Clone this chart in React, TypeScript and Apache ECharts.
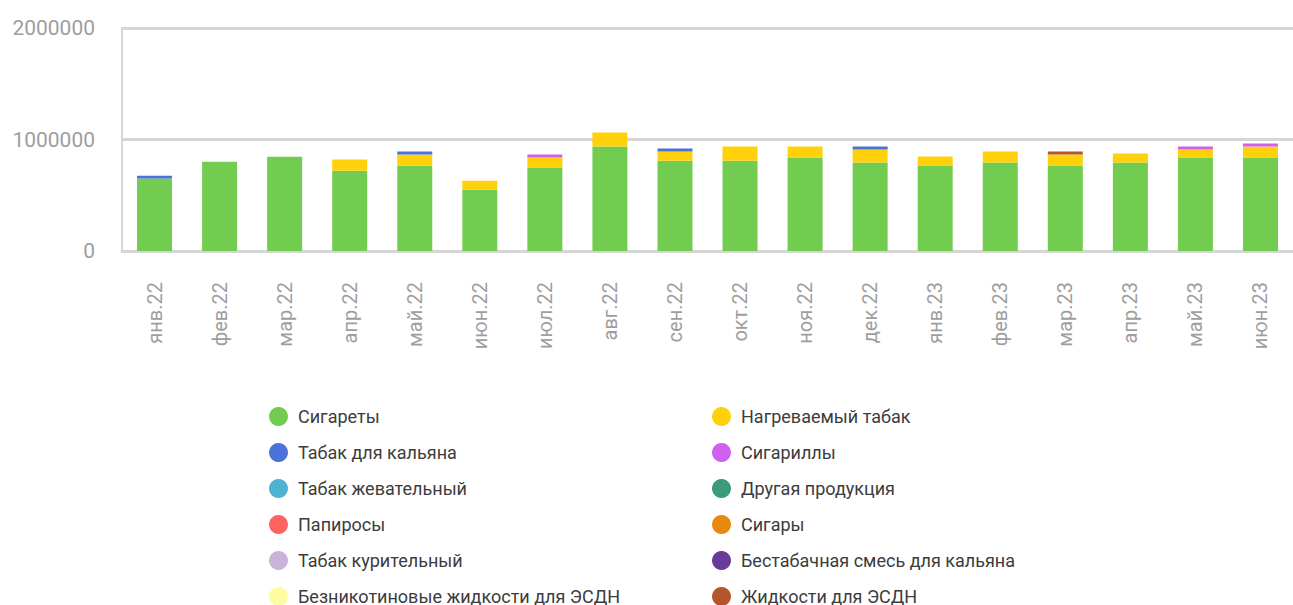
import React, { useEffect, useRef } from "react";
import * as echarts from "echarts";

const categories = [
  "янв.22", "фев.22", "мар.22", "апр.22", "май.22", "июн.22", "июл.22", "авг.22", "сен.22",
  "окт.22", "ноя.22", "дек.22", "янв.23", "фев.23", "мар.23", "апр.23", "май.23", "июн.23",
];

const seriesNames = [
  "Сигареты",
  "Нагреваемый табак",
  "Табак для кальяна",
  "Сигариллы",
  "Табак жевательный",
  "Другая продукция",
  "Папиросы",
  "Сигары",
  "Табак курительный",
  "Бестабачная смесь для кальяна",
  "Безникотиновые жидкости для ЭСДН",
  "Жидкости для ЭСДН",
];

const seriesColors = [
  "#72cc50", "#ffd10a", "#4a72d8", "#d061f0", "#4eb3d3", "#3b9a7a",
  "#ff6361", "#e8890f", "#c9b3d9", "#6a3a9a", "#fdfda0", "#b5562a",
];

const cigarettes = [650000, 800000, 845000, 720000, 765000, 550000, 748000, 937000, 810000, 810000, 838000, 793000, 766000, 793000, 766000, 793000, 838000, 838000];
const heatedTobacco = [0, 0, 0, 100000, 100000, 80000, 90000, 126000, 82000, 127000, 99000, 117000, 81000, 99000, 99000, 81000, 72000, 99000];
const hookahTobacco = [25000, 0, 0, 0, 27000, 0, 0, 0, 27000, 0, 0, 27000, 0, 0, 0, 0, 0, 0];
const cigarillos = [0, 0, 0, 0, 0, 0, 27000, 0, 0, 0, 0, 0, 0, 0, 0, 0, 27000, 27000];
const chewingTobacco = categories.map(() => 0);
const otherProducts = categories.map(() => 0);
const papirosy = categories.map(() => 0);
const cigars = categories.map(() => 0);
const smokingTobacco = categories.map(() => 0);
const tobaccoFreeMix = categories.map(() => 0);
const nicotineFreeLiquids = categories.map(() => 0);
const esdnLiquids = [0, 0, 0, 0, 0, 0, 0, 0, 0, 0, 0, 0, 0, 0, 27000, 0, 0, 0];

const seriesData = [
  cigarettes, heatedTobacco, hookahTobacco, cigarillos, chewingTobacco, otherProducts,
  papirosy, cigars, smokingTobacco, tobaccoFreeMix, nicotineFreeLiquids, esdnLiquids,
];

const yTicks = { min: 0, max: 2000000, interval: 1000000 };

export default function App() {
  const ref = useRef<HTMLDivElement>(null);
  useEffect(() => {
    if (!ref.current) return;
    const chart = echarts.init(ref.current, undefined, { renderer: "svg" });
    const legends = seriesNames.map((name, i) => ({
      orient: "horizontal",
      icon: "circle",
      itemWidth: 29,
      itemHeight: 19,
      left: i % 2 === 0 ? 269 : 712,
      top: 407 + Math.floor(i / 2) * 36,
      padding: 0,
      data: [name],
      textStyle: { fontSize: 18, color: "#3c3c3c", fontFamily: "Roboto" },
    }));
    chart.setOption({
      animation: false,
      textStyle: { fontFamily: "Roboto" },
      color: seriesColors,
      grid: { left: 122, top: 28, bottom: 354, right: -11, containLabel: false },
      legend: legends,
      xAxis: {
        type: "category",
        data: categories,
        axisLine: { lineStyle: { color: "#d6d6d6", width: 3 } },
        axisTick: { show: false },
        axisLabel: { rotate: 90, margin: 31, fontSize: 20, color: "#9e9e9e", interval: 0 },
      },
      yAxis: {
        type: "value",
        min: yTicks.min,
        max: yTicks.max,
        interval: yTicks.interval,
        axisLine: { show: true, lineStyle: { color: "#d6d6d6", width: 2 } },
        axisTick: { show: false },
        splitLine: { lineStyle: { color: "#d6d6d6", width: 3 } },
        axisLabel: {
          fontSize: 21,
          color: "#9e9e9e",
          margin: 27,
          formatter: (v: number) => String(v),
        },
      },
      series: seriesNames.map((name, i) => ({
        name,
        type: "bar",
        stack: "total",
        barWidth: 35,
        data: seriesData[i],
        itemStyle: { color: seriesColors[i] },
      })),
    });
    return () => chart.dispose();
  }, []);
  return (
    <div
      ref={ref}
      style={{ position: "fixed", left: 0, top: 0, width: 1293, height: 605, background: "#fff" }}
    />
  );
}
